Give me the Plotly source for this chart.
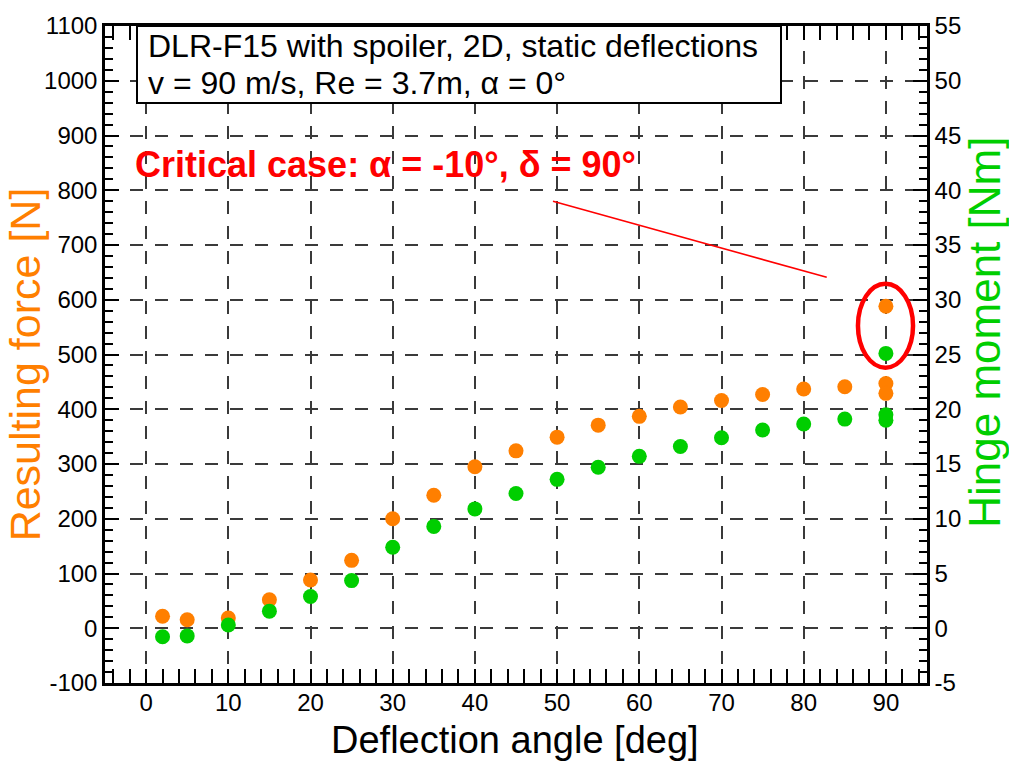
import plotly.graph_objects as go

# ---- data ----
angles = [2, 5, 10, 15, 20, 25, 30, 35, 40, 45, 50, 55, 60, 65, 70, 75, 80, 85, 90, 90]
force_N = [22, 15.5, 18.5, 52, 88, 124, 200, 243, 295, 324, 349, 371, 387, 404, 416, 427, 437, 441, 447, 429]
moment_Nm = [-0.78, -0.7, 0.3, 1.56, 2.9, 4.35, 7.4, 9.3, 10.9, 12.3, 13.6, 14.7, 15.7, 16.6, 17.4, 18.1, 18.65, 19.1, 19.5, 19.0]
crit_angle = [90]
crit_force_N = [588]
crit_moment_Nm = [25.1]

x_ticks = [0, 10, 20, 30, 40, 50, 60, 70, 80, 90]
y_ticks = list(range(-100, 1101, 100))
y2_ticks = list(range(-5, 56, 5))
y_ticktext = [str(v) for v in y_ticks]
y2_ticktext = [str(v) for v in y2_ticks]

ORANGE = "rgb(255,127,0)"
GREEN = "rgb(0,206,0)"
FONT = "Liberation Sans, Arial, Helvetica, sans-serif"

W, H = 1009, 764
ML, MR, MT, MB = 105, 82, 17, 81
PW, PH = W - ML - MR, H - MT - MB


def px(x):
    return (x - ML) / PW


def py(y):
    return (H - MB - y) / PH


fig = go.Figure()
fig.add_trace(go.Scatter(x=angles + crit_angle, y=force_N + crit_force_N, mode="markers",
                         marker=dict(size=15, color=ORANGE), yaxis="y", showlegend=False))
fig.add_trace(go.Scatter(x=angles + crit_angle, y=moment_Nm + crit_moment_Nm, mode="markers",
                         marker=dict(size=15, color=GREEN), yaxis="y2", showlegend=False))

grid = dict(showgrid=True, gridcolor="#3a3a3a", gridwidth=1.5, griddash="13px,12px")
axcommon = dict(showline=True, linecolor="black", linewidth=2.5, ticks="inside", ticklen=14,
                tickwidth=2, tickcolor="black", zeroline=False,
                tickfont=dict(family=FONT, size=24, color="black"))

fig.update_layout(
    width=W, height=H, margin=dict(l=ML, r=MR, t=MT, b=MB),
    paper_bgcolor="white", plot_bgcolor="white",
    xaxis=dict(range=[-5, 95], tickvals=x_ticks, mirror="allticks", ticklabelstandoff=-4,
               minor=dict(dtick=2, ticks="inside", ticklen=8, tickwidth=2, tickcolor="black", showgrid=False),
               **grid, **axcommon),
    yaxis=dict(range=[-100, 1100], tickvals=y_ticks, ticktext=y_ticktext, mirror=True,
               minor=dict(dtick=20, ticks="inside", ticklen=8, tickwidth=2, tickcolor="black", showgrid=False),
               **grid, **axcommon),
    yaxis2=dict(range=[-5, 55], tickvals=y2_ticks, ticktext=y2_ticktext, overlaying="y", side="right",
                showgrid=False,
                minor=dict(dtick=1, ticks="inside", ticklen=8, tickwidth=2, tickcolor="black", showgrid=False),
                **axcommon),
)

# title box
fig.add_shape(type="rect", xref="paper", yref="paper", x0=px(137), x1=px(781), y0=py(95), y1=1.0,
              fillcolor="white", line=dict(color="black", width=2), layer="above")
fig.add_annotation(xref="paper", yref="paper", x=px(146), y=py(37), xanchor="left", yanchor="middle",
                   text="DLR-F15 with spoiler, 2D, static deflections", showarrow=False,
                   font=dict(family=FONT, size=32, color="black"))
fig.add_annotation(xref="paper", yref="paper", x=px(146), y=py(75), xanchor="left", yanchor="middle",
                   text="v = 90 m/s, Re = 3.7m, α = 0°", showarrow=False,
                   font=dict(family=FONT, size=32, color="black"))

# critical case annotation
fig.add_annotation(xref="paper", yref="paper", x=px(133), y=py(157), xanchor="left", yanchor="middle",
                   text="<b>Critical case: α = -10°, δ = 90°</b>", showarrow=False,
                   font=dict(family=FONT, size=36, color="red"))
fig.add_shape(type="line", xref="x", yref="y", x0=49.5, y0=780, x1=82.8, y1=641,
              line=dict(color="red", width=1.6))
fig.add_shape(type="circle", xref="x", yref="y", x0=86.6, x1=93.3, y0=476, y1=629,
              line=dict(color="red", width=4.5))

# axis titles
fig.add_annotation(xref="paper", yref="paper", x=px(515), y=py(741), xanchor="center", yanchor="middle",
                   text="Deflection angle [deg]", showarrow=False,
                   font=dict(family=FONT, size=38, color="black"))
fig.add_annotation(xref="paper", yref="paper", x=px(25), y=py(360), xanchor="center", yanchor="middle",
                   text="Resulting force [N]", showarrow=False, textangle=-90,
                   font=dict(family=FONT, size=43, color=ORANGE))
fig.add_annotation(xref="paper", yref="paper", x=px(985), y=py(328), xanchor="center", yanchor="middle",
                   text="Hinge moment [Nm]", showarrow=False, textangle=-90,
                   font=dict(family=FONT, size=44, color=GREEN))

fig.write_html("out.html")
